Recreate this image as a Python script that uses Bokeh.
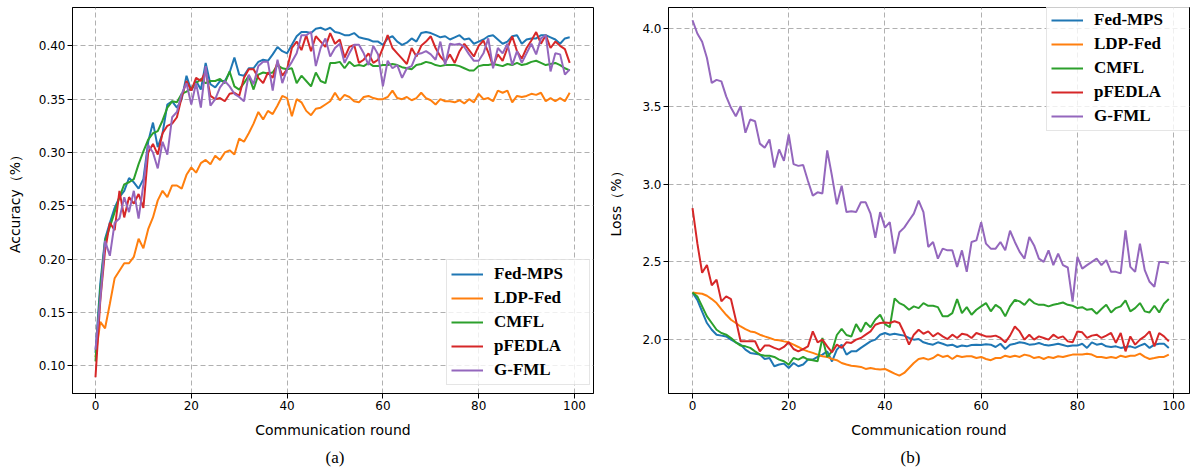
from bokeh.plotting import figure
from bokeh.models import (Legend, LegendItem, FixedTicker, PrintfTickFormatter,
                          Range1d, Title)
from bokeh.layouts import row
from bokeh.embed import file_html
from bokeh.resources import INLINE

rounds = list(range(100))
series_names = ["Fed-MPS", "LDP-Fed", "CMFL", "pFEDLA", "G-FML"]
series_colors = ["#1f77b4", "#ff7f0e", "#2ca02c", "#d62728", "#9467bd"]
x_ticks = [0, 20, 40, 60, 80, 100]
acc_ticks = [0.10, 0.15, 0.20, 0.25, 0.30, 0.35, 0.40]
loss_ticks = [2.0, 2.5, 3.0, 3.5, 4.0]

acc_fedmps = [
    0.112, 0.177, 0.219, 0.234, 0.248, 0.258, 0.264, 0.276, 0.272, 0.266,
    0.275, 0.310, 0.328, 0.305, 0.318, 0.345, 0.348, 0.342, 0.350, 0.372,
    0.358, 0.367, 0.359, 0.384, 0.364, 0.361, 0.367, 0.367, 0.375, 0.389,
    0.373, 0.372, 0.379, 0.379, 0.385, 0.387, 0.386, 0.392, 0.399, 0.395,
    0.393, 0.401, 0.409, 0.413, 0.413, 0.412, 0.416, 0.417, 0.415, 0.417,
    0.413, 0.412, 0.410, 0.410, 0.412, 0.408, 0.407, 0.406, 0.404, 0.404,
    0.401, 0.407, 0.409, 0.404, 0.401, 0.403, 0.407, 0.404, 0.412, 0.413,
    0.412, 0.410, 0.408, 0.409, 0.406, 0.408, 0.410, 0.406, 0.407, 0.402,
    0.404, 0.406, 0.409, 0.410, 0.406, 0.402, 0.404, 0.409, 0.410, 0.402,
    0.406, 0.407, 0.407, 0.410, 0.410, 0.408, 0.406, 0.402, 0.407, 0.408]
acc_ldpfed = [
    0.108, 0.141, 0.135, 0.158, 0.182, 0.189, 0.196, 0.196, 0.202, 0.219,
    0.210, 0.228, 0.239, 0.255, 0.264, 0.258, 0.269, 0.269, 0.266, 0.279,
    0.286, 0.281, 0.290, 0.293, 0.289, 0.297, 0.293, 0.300, 0.302, 0.298,
    0.313, 0.310, 0.318, 0.327, 0.338, 0.331, 0.339, 0.336, 0.344, 0.353,
    0.351, 0.334, 0.350, 0.347, 0.339, 0.335, 0.341, 0.342, 0.345, 0.348,
    0.356, 0.349, 0.354, 0.352, 0.348, 0.347, 0.352, 0.353, 0.351, 0.350,
    0.350, 0.352, 0.358, 0.351, 0.350, 0.352, 0.349, 0.351, 0.356, 0.351,
    0.349, 0.345, 0.350, 0.348, 0.348, 0.347, 0.349, 0.346, 0.350, 0.347,
    0.355, 0.350, 0.351, 0.348, 0.358, 0.356, 0.358, 0.347, 0.353, 0.352,
    0.353, 0.355, 0.354, 0.356, 0.348, 0.351, 0.348, 0.351, 0.348, 0.356]
acc_cmfl = [
    0.104, 0.171, 0.217, 0.230, 0.244, 0.258, 0.270, 0.272, 0.275, 0.289,
    0.301, 0.312, 0.318, 0.320, 0.330, 0.342, 0.348, 0.347, 0.355, 0.357,
    0.360, 0.365, 0.369, 0.365, 0.367, 0.367, 0.369, 0.365, 0.376, 0.362,
    0.359, 0.365, 0.372, 0.359, 0.373, 0.375, 0.374, 0.375, 0.382, 0.379,
    0.378, 0.379, 0.365, 0.372, 0.367, 0.362, 0.375, 0.367, 0.365, 0.384,
    0.384, 0.385, 0.379, 0.385, 0.381, 0.382, 0.381, 0.384, 0.381, 0.381,
    0.382, 0.382, 0.383, 0.382, 0.380, 0.379, 0.378, 0.382, 0.383, 0.385,
    0.384, 0.382, 0.381, 0.382, 0.382, 0.382, 0.381, 0.379, 0.377, 0.377,
    0.381, 0.382, 0.382, 0.383, 0.382, 0.381, 0.383, 0.382, 0.384, 0.382,
    0.383, 0.385, 0.386, 0.384, 0.382, 0.383, 0.384, 0.382, 0.379, 0.377]
acc_pfedla = [
    0.089, 0.161, 0.208, 0.234, 0.227, 0.264, 0.239, 0.258, 0.252, 0.261,
    0.248, 0.300, 0.308, 0.298, 0.318, 0.325, 0.327, 0.333, 0.352, 0.367,
    0.358, 0.370, 0.367, 0.376, 0.353, 0.350, 0.351, 0.348, 0.355, 0.356,
    0.353, 0.370, 0.378, 0.378, 0.370, 0.365, 0.375, 0.370, 0.385, 0.372,
    0.378, 0.398, 0.404, 0.396, 0.410, 0.395, 0.409, 0.404, 0.399, 0.412,
    0.402, 0.406, 0.389, 0.399, 0.401, 0.384, 0.387, 0.393, 0.384, 0.387,
    0.398, 0.410, 0.398, 0.393, 0.388, 0.383, 0.398, 0.390, 0.400, 0.404,
    0.409, 0.398, 0.390, 0.385, 0.392, 0.384, 0.395, 0.402, 0.396, 0.390,
    0.400, 0.405, 0.394, 0.381, 0.392, 0.386, 0.398, 0.409, 0.395, 0.388,
    0.398, 0.405, 0.413, 0.402, 0.410, 0.398, 0.404, 0.400, 0.397, 0.384]
acc_gfml = [
    0.115, 0.162, 0.217, 0.203, 0.234, 0.238, 0.258, 0.244, 0.264, 0.238,
    0.270, 0.307, 0.300, 0.285, 0.310, 0.298, 0.333, 0.338, 0.355, 0.365,
    0.345, 0.365, 0.342, 0.381, 0.344, 0.350, 0.361, 0.367, 0.362, 0.355,
    0.352, 0.348, 0.373, 0.364, 0.381, 0.385, 0.385, 0.358, 0.387, 0.365,
    0.378, 0.385, 0.393, 0.410, 0.410, 0.413, 0.381, 0.398, 0.407, 0.390,
    0.398, 0.402, 0.384, 0.393, 0.401, 0.401, 0.393, 0.382, 0.400, 0.392,
    0.362, 0.386, 0.379, 0.382, 0.370, 0.379, 0.381, 0.392, 0.393, 0.395,
    0.392, 0.387, 0.404, 0.382, 0.402, 0.401, 0.402, 0.399, 0.392, 0.386,
    0.386, 0.393, 0.407, 0.379, 0.398, 0.393, 0.402, 0.382, 0.395, 0.384,
    0.393, 0.402, 0.392, 0.407, 0.410, 0.376, 0.393, 0.392, 0.373, 0.378]

loss_fedmps = [
    2.303, 2.256, 2.180, 2.107, 2.064, 2.032, 2.026, 2.021, 2.000, 1.983,
    1.968, 1.936, 1.915, 1.910, 1.904, 1.876, 1.882, 1.829, 1.840, 1.846,
    1.818, 1.850, 1.829, 1.840, 1.872, 1.872, 1.889, 1.904, 1.925, 1.860,
    1.936, 1.968, 1.904, 1.925, 1.925, 1.947, 1.968, 1.989, 2.000, 2.032,
    2.043, 2.032, 2.038, 2.032, 2.026, 2.011, 2.000, 2.004, 1.983, 1.974,
    1.968, 1.983, 1.974, 1.962, 1.968, 1.953, 1.962, 1.957, 1.966, 1.968,
    1.966, 1.970, 1.968, 1.953, 1.974, 1.940, 1.968, 1.974, 1.983, 1.979,
    1.968, 1.970, 1.979, 1.968, 1.962, 1.968, 1.974, 1.966, 1.957, 1.962,
    1.962, 1.974, 1.947, 1.983, 1.968, 1.974, 1.957, 1.953, 1.957, 1.947,
    1.953, 1.957, 1.947, 1.962, 1.974, 1.947, 1.968, 1.974, 1.974, 1.947]
loss_ldpfed = [
    2.303, 2.299, 2.295, 2.282, 2.261, 2.235, 2.197, 2.160, 2.128, 2.107,
    2.085, 2.068, 2.053, 2.047, 2.032, 2.021, 2.011, 2.000, 1.996, 1.989,
    1.983, 1.968, 1.953, 1.936, 1.925, 1.915, 1.904, 1.893, 1.889, 1.876,
    1.868, 1.850, 1.840, 1.833, 1.829, 1.825, 1.812, 1.818, 1.812, 1.808,
    1.812, 1.797, 1.782, 1.769, 1.786, 1.818, 1.850, 1.876, 1.882, 1.872,
    1.882, 1.904, 1.889, 1.897, 1.876, 1.897, 1.889, 1.893, 1.893, 1.882,
    1.889, 1.876, 1.868, 1.882, 1.882, 1.897, 1.889, 1.897, 1.889, 1.904,
    1.897, 1.882, 1.889, 1.876, 1.889, 1.882, 1.893, 1.889, 1.897, 1.904,
    1.904, 1.904, 1.910, 1.904, 1.889, 1.889, 1.882, 1.889, 1.882, 1.897,
    1.889, 1.897, 1.897, 1.910, 1.889, 1.876, 1.882, 1.889, 1.889, 1.904]
loss_cmfl = [
    2.303, 2.278, 2.214, 2.150, 2.107, 2.064, 2.043, 2.032, 2.011, 1.983,
    1.962, 1.957, 1.947, 1.925, 1.904, 1.897, 1.897, 1.889, 1.872, 1.861,
    1.840, 1.882, 1.872, 1.889, 1.872, 1.868, 1.861, 2.011, 1.889, 1.925,
    2.030, 2.070, 2.030, 2.020, 2.100, 2.050, 2.110, 2.080, 2.130, 2.160,
    2.100, 2.080, 2.265, 2.235, 2.220, 2.192, 2.214, 2.203, 2.235, 2.218,
    2.218, 2.209, 2.150, 2.150, 2.171, 2.261, 2.171, 2.209, 2.160, 2.192,
    2.214, 2.235, 2.182, 2.224, 2.203, 2.150, 2.214, 2.256, 2.246, 2.224,
    2.261, 2.235, 2.224, 2.224, 2.214, 2.224, 2.231, 2.239, 2.224, 2.218,
    2.203, 2.209, 2.192, 2.197, 2.167, 2.197, 2.224, 2.175, 2.203, 2.214,
    2.252, 2.182, 2.203, 2.235, 2.182, 2.175, 2.218, 2.175, 2.231, 2.261]
loss_pfedla = [
    2.845, 2.620, 2.430, 2.480, 2.350, 2.385, 2.246, 2.278, 2.260, 2.128,
    1.990, 1.990, 1.990, 1.990, 1.925, 1.962, 1.962, 1.947, 1.936, 1.953,
    1.983, 1.940, 1.925, 1.940, 1.957, 2.053, 1.983, 2.000, 1.957, 1.919,
    1.968, 1.947, 1.983, 1.979, 2.000, 2.011, 2.032, 2.053, 2.096, 2.107,
    2.111, 2.107, 2.118, 2.107, 2.043, 1.968, 2.032, 2.064, 2.038, 2.053,
    2.021, 2.043, 2.021, 2.004, 2.032, 2.011, 2.038, 2.032, 2.011, 2.043,
    2.032, 2.021, 2.021, 2.026, 2.011, 1.983, 2.026, 2.085, 2.053, 2.000,
    2.032, 2.000, 2.021, 2.011, 2.000, 2.032, 2.011, 2.021, 1.989, 1.983,
    2.053, 2.047, 2.011, 2.026, 2.032, 2.011, 2.026, 2.043, 1.979, 2.043,
    1.925, 2.021, 1.968, 2.000, 2.021, 2.053, 1.957, 2.043, 2.021, 1.989]
loss_gfml = [
    4.053, 3.968, 3.915, 3.810, 3.650, 3.670, 3.660, 3.564, 3.490, 3.436,
    3.500, 3.330, 3.415, 3.404, 3.260, 3.234, 3.287, 3.106, 3.223, 3.149,
    3.319, 3.128, 3.117, 3.123, 3.020, 2.926, 2.947, 2.940, 3.217, 3.050,
    2.870, 2.990, 2.820, 2.825, 2.820, 2.883, 2.883, 2.810, 2.655, 2.820,
    2.720, 2.755, 2.553, 2.690, 2.720, 2.766, 2.810, 2.894, 2.820, 2.596,
    2.628, 2.521, 2.585, 2.574, 2.574, 2.468, 2.574, 2.436, 2.628, 2.638,
    2.755, 2.617, 2.585, 2.585, 2.628, 2.574, 2.700, 2.628, 2.564, 2.521,
    2.660, 2.606, 2.521, 2.500, 2.574, 2.479, 2.553, 2.479, 2.464, 2.245,
    2.532, 2.457, 2.479, 2.500, 2.521, 2.479, 2.511, 2.436, 2.436, 2.426,
    2.702, 2.468, 2.436, 2.617, 2.447, 2.372, 2.340, 2.500, 2.500, 2.489]

acc_series = [acc_fedmps, acc_ldpfed, acc_cmfl, acc_pfedla, acc_gfml]
loss_series = [loss_fedmps, loss_ldpfed, loss_cmfl, loss_pfedla, loss_gfml]


def style(p, yticks, fmt, ylabel, caption, ylabel_standoff, cap_offset):
    p.xaxis.ticker = FixedTicker(ticks=x_ticks)
    p.yaxis.ticker = FixedTicker(ticks=yticks)
    p.yaxis.formatter = PrintfTickFormatter(format=fmt)
    p.xaxis.axis_label = "Communication round"
    p.yaxis.axis_label = ylabel
    for ax in (p.xaxis[0], p.yaxis[0]):
        ax.major_tick_in = 0
        ax.major_tick_out = 5
        ax.minor_tick_line_color = None
        ax.major_tick_line_color = "black"
        ax.axis_line_color = "black"
        ax.major_label_text_font = "DejaVu Sans"
        ax.major_label_text_font_size = "12px"
        ax.major_label_text_color = "black"
        ax.major_label_standoff = 2
        ax.axis_label_text_font = "DejaVu Sans"
        ax.axis_label_text_font_size = "14px"
        ax.axis_label_text_font_style = "normal"
        ax.axis_label_text_color = "black"
    p.xaxis.axis_label_standoff = 9
    p.yaxis.axis_label_standoff = ylabel_standoff
    p.grid.grid_line_color = "#b0b0b0"
    p.grid.grid_line_dash = "5 3"
    p.grid.grid_line_width = 1
    p.outline_line_color = "black"
    p.outline_line_alpha = 1
    p.outline_line_width = 1
    cap = Title(text=caption, align="left", text_font="Liberation Serif",
                text_font_size="17px", text_font_style="normal",
                text_color="black", standoff=11, offset=cap_offset)
    p.add_layout(cap, "below")


def add_lines(p, data, loc):
    items = []
    for name, color, ys in zip(series_names, series_colors, data):
        r = p.line(rounds, ys, line_color=color, line_width=2)
        items.append(LegendItem(label=name, renderers=[r]))
    leg = Legend(items=items, location=loc, label_text_font="Liberation Serif",
                 label_text_font_style="bold", label_text_font_size="17px",
                 label_text_color="black",
                 glyph_width=32, glyph_height=20, label_height=20,
                 label_width=91, label_standoff=11, padding=4, spacing=4,
                 margin=0, border_line_color="#cccccc", border_line_width=1,
                 background_fill_color="white", background_fill_alpha=0.8)
    p.add_layout(leg)


pa = figure(width=603, height=472, output_backend="svg", toolbar_location=None,
            x_range=Range1d(-4.8, 103.97), y_range=Range1d(0.0738, 0.436),
            min_border_left=72, min_border_right=10, min_border_top=7,
            min_border_bottom=78)
add_lines(pa, acc_series, (374, 8))
style(pa, acc_ticks, "%.2f", "Accuracy（%）", "(a)", 13, 253)

pb = figure(width=591, height=472, output_backend="svg", toolbar_location=None,
            x_range=Range1d(-4.99, 103.3), y_range=Range1d(1.654, 4.135),
            min_border_left=65, min_border_right=5, min_border_top=7,
            min_border_bottom=78)
add_lines(pb, loss_series, (378, 262))
style(pb, loss_ticks, "%.1f", "Loss（%）", "(b)", 15, 232)

layout = row(pa, pb)
open("out.html", "w").write(file_html(layout, INLINE))
